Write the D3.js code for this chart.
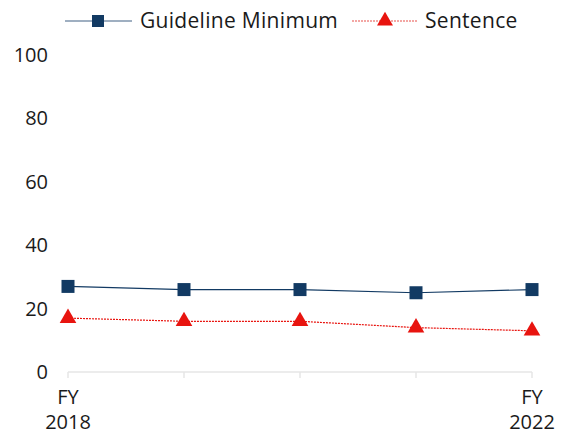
<!DOCTYPE html>
<html><head><meta charset="utf-8">
<script src="https://cdn.jsdelivr.net/npm/d3@7"></script>
<style>body{margin:0;background:#fff}svg{display:block}text{font-family:"Open Sans",sans-serif;fill:#1a1a1a}</style>
</head><body><svg id="c" width="568" height="436"></svg>
<script>
const categories = ["FY 2018","FY 2019","FY 2020","FY 2021","FY 2022"];
const tickLabels = [["FY","2018"],["",""],["",""],["",""],["FY","2022"]];
const guidelineMin = [27,26,26,25,26];
const sentence = [17,16,16,14,13];
const yTicks = [0,20,40,60,80,100];

const svg = d3.select("#c");
const x = d3.scalePoint().domain(categories).range([68,532]);
const y = d3.scaleLinear().domain([0,100]).range([372,55]);

// y labels
svg.selectAll(".yl").data(yTicks).join("text")
  .attr("x",48).attr("y",d=>y(d)).attr("dy","0.35em")
  .attr("text-anchor","end").attr("font-size",20).text(d=>d);

// x axis
svg.append("line").attr("x1",x(categories[0])).attr("x2",x(categories[4]))
  .attr("y1",y(0)).attr("y2",y(0)).attr("stroke","#e6e6e6").attr("stroke-width",1.5);
svg.selectAll(".xt").data(categories).join("line")
  .attr("x1",d=>x(d)).attr("x2",d=>x(d)).attr("y1",y(0)).attr("y2",y(0)+6)
  .attr("stroke","#e6e6e6").attr("stroke-width",1.5);
categories.forEach((c,i)=>{
  const t = svg.append("text").attr("x",x(c)).attr("y",404).attr("text-anchor","middle").attr("font-size",20);
  t.append("tspan").attr("x",x(c)).text(tickLabels[i][0]);
  t.append("tspan").attr("x",x(c)).attr("dy",25).text(tickLabels[i][1]);
});

const line = d3.line().x((d,i)=>x(categories[i])).y(d=>y(d));
svg.append("path").datum(guidelineMin).attr("d",line).attr("fill","none").attr("stroke","#123a63").attr("stroke-width",1.2);
svg.append("path").datum(sentence).attr("d",line).attr("fill","none").attr("stroke","#e8140f").attr("stroke-width",1.2).attr("stroke-dasharray","2,1");

svg.selectAll(".sq").data(guidelineMin).join("rect")
  .attr("x",(d,i)=>x(categories[i])-6.5).attr("y",d=>y(d)-6.5).attr("width",13).attr("height",13)
  .attr("fill","#123a63");
const tri = d3.symbol().type(d3.symbolTriangle).size(120);
svg.selectAll(".tr").data(sentence).join("path")
  .attr("d",tri).attr("transform",(d,i)=>`translate(${x(categories[i])},${y(d)})`)
  .attr("fill","#e8140f");

// legend
const lg = svg.append("g");
lg.append("line").attr("x1",65).attr("x2",132).attr("y1",21).attr("y2",21).attr("stroke","#7f95ad").attr("stroke-width",1.5);
lg.append("rect").attr("x",92).attr("y",15).attr("width",12).attr("height",12).attr("fill","#123a63");
lg.append("text").attr("x",140).attr("y",21).attr("dy","0.35em").attr("font-size",21).attr("letter-spacing",0.3).text("Guideline Minimum");
lg.append("line").attr("x1",352).attr("x2",418).attr("y1",21).attr("y2",21).attr("stroke","#f08a87").attr("stroke-width",1.5).attr("stroke-dasharray","2,1");
lg.append("path").attr("d",d3.symbol().type(d3.symbolTriangle).size(110)).attr("transform","translate(385,21)").attr("fill","#e8140f");
lg.append("text").attr("x",425).attr("y",21).attr("dy","0.35em").attr("font-size",21).attr("letter-spacing",0.3).text("Sentence");
</script></body></html>
